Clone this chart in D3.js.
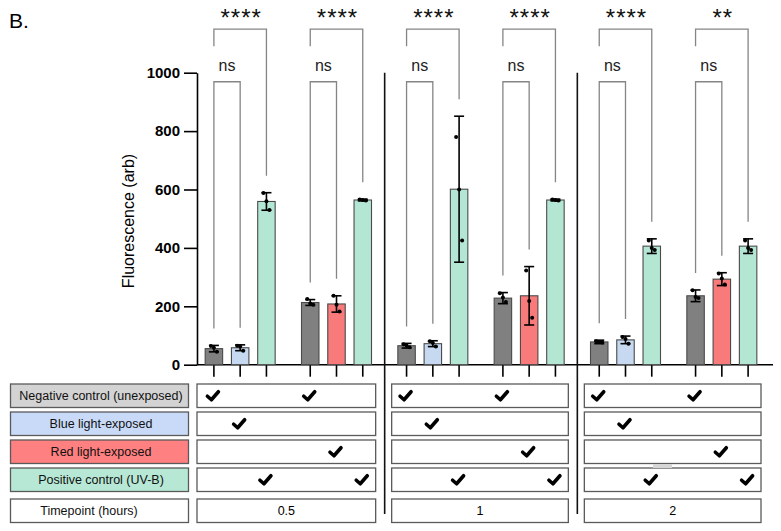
<!DOCTYPE html>
<html>
<head>
<meta charset="utf-8">
<script src="https://cdn.jsdelivr.net/npm/d3@7"></script>
<style>
  body { margin: 0; background: #fff; }
  svg { font-family: "Liberation Sans", Arial, sans-serif; }
</style>
</head>
<body>
<script>
// chart data
var timepoints = ["0.5", "1", "2"];
var conditions = ["Negative control (unexposed)", "Blue light-exposed", "Red light-exposed", "Positive control (UV-B)"];
var rowLabels = conditions.concat(["Timepoint (hours)"]);
var condFill = ["#808080", "#c6d9f1", "#f87a7a", "#b4e7d3"];
var labelFill = ["#d3d3d3", "#c9daf8", "#ff8080", "#b7e8d5"];

// each group of three bars: which condition each bar is
var groupConds = [[0, 1, 3], [0, 2, 3], [0, 1, 3], [0, 2, 3], [0, 1, 3], [0, 2, 3]];
var means = [[55, 58, 559], [213, 208, 564], [65, 72, 601], [228, 236, 564], [78, 85, 406], [236, 293, 406]];
var sds = [[11, 10, 30], [10, 28, 3], [8, 10, 250], [19, 100, 3], [6, 13, 25], [20, 22, 25]];
var replicates = [
    [[64, 58, 44], [65, 62, 48], [588, 560, 530]],
    [[225, 210, 205], [236, 205, 182], [566, 564, 562]],
    [[70, 66, 60], [80, 74, 62], [780, 600, 425]],
    [[245, 230, 215], [323, 218, 161], [566, 564, 562]],
    [[80, 78, 76], [95, 88, 72], [425, 400, 393]],
    [[255, 232, 228], [312, 295, 275], [425, 400, 393]]
];
var sigInner = ["ns", "ns", "ns", "ns", "ns", "ns"];
var sigOuter = ["****", "****", "****", "****", "****", "**"];
var yTicks = [0, 200, 400, 600, 800, 1000];

var width = 781,
    height = 531;

var svg = d3.select("body")
    .append("svg")
    .attr("width", width)
    .attr("height", height);

// scales
var y = d3.scaleLinear().domain([0, 1000]).range([364.7, 72.7]);
var x0 = d3.scaleBand().domain(d3.range(groupConds.length)).range([192, 770]);
var x1 = d3.scaleBand().domain([0, 1, 2]).range([-35, 35]).paddingInner(0.335);

function barCenter(g, j) {
    return x0(g) + x0.bandwidth() / 2 + x1(j) + x1.bandwidth() / 2;
}
// left edge of group g, also valid one past the last group
function groupEdge(g) {
    return x0.range()[0] + g * x0.step();
}

// panel letter
svg.append("text")
    .attr("x", 9).attr("y", 28)
    .attr("font-size", 21)
    .text("B.");

// y axis
var yAxis = svg.append("g")
    .attr("transform", "translate(197,0)")
    .call(d3.axisLeft(y).tickValues(yTicks).tickFormat(d3.format("d"))
        .tickSize(13).tickSizeOuter(0).tickPadding(4));
yAxis.select(".domain").attr("stroke", "#000").attr("stroke-width", 1.6);
yAxis.selectAll(".tick line").attr("stroke", "#000").attr("stroke-width", 1.6);
yAxis.selectAll(".tick text")
    .attr("font-size", 15)
    .attr("font-weight", "bold")
    .attr("font-family", "Liberation Sans, Arial, sans-serif")
    .attr("fill", "#000");

svg.append("text")
    .attr("transform", "translate(134,221) rotate(-90)")
    .attr("text-anchor", "middle")
    .attr("font-size", 16)
    .text("Fluorescence (arb)");

// x axis line
svg.append("line")
    .attr("x1", 197).attr("x2", 773)
    .attr("y1", y(0)).attr("y2", y(0))
    .attr("stroke", "#000").attr("stroke-width", 1.6);

// separators between timepoints
[2, 4].forEach(function(g) {
    svg.append("line")
        .attr("x1", groupEdge(g)).attr("x2", groupEdge(g))
        .attr("y1", y(1000)).attr("y2", 514)
        .attr("stroke", "#111").attr("stroke-width", 1.6);
});

// flatten bars
var bars = [];
groupConds.forEach(function(conds, g) {
    conds.forEach(function(c, j) {
        bars.push({ g: g, j: j, cond: c, mean: means[g][j], sd: sds[g][j], pts: replicates[g][j] });
    });
});

svg.selectAll(".xtick")
    .data(bars)
    .enter()
    .append("line")
    .attr("class", "xtick")
    .attr("x1", function(d) { return barCenter(d.g, d.j); })
    .attr("x2", function(d) { return barCenter(d.g, d.j); })
    .attr("y1", y(0)).attr("y2", y(0) + 12)
    .attr("stroke", "#000").attr("stroke-width", 1.6);

svg.selectAll(".bar")
    .data(bars)
    .enter()
    .append("rect")
    .attr("class", "bar")
    .attr("x", function(d) { return x0(d.g) + x0.bandwidth() / 2 + x1(d.j); })
    .attr("width", x1.bandwidth())
    .attr("y", function(d) { return y(d.mean); })
    .attr("height", function(d) { return y(0) - y(d.mean); })
    .attr("fill", function(d) { return condFill[d.cond]; })
    .attr("stroke", "#4a4a4a")
    .attr("stroke-width", 1.1);

// error bars
var err = svg.selectAll(".err")
    .data(bars)
    .enter()
    .append("g")
    .attr("class", "err")
    .attr("stroke", "#000")
    .attr("stroke-width", 1.6);
err.append("line")
    .attr("x1", function(d) { return barCenter(d.g, d.j); })
    .attr("x2", function(d) { return barCenter(d.g, d.j); })
    .attr("y1", function(d) { return y(d.mean - d.sd); })
    .attr("y2", function(d) { return y(d.mean + d.sd); });
[-1, 1].forEach(function(s) {
    err.append("line")
        .attr("x1", function(d) { return barCenter(d.g, d.j) - 5; })
        .attr("x2", function(d) { return barCenter(d.g, d.j) + 5; })
        .attr("y1", function(d) { return y(d.mean + s * d.sd); })
        .attr("y2", function(d) { return y(d.mean + s * d.sd); });
});

// replicate points
var dots = [];
bars.forEach(function(b) {
    b.pts.forEach(function(v, k) {
        dots.push({ x: barCenter(b.g, b.j) + (k - 1) * 3, v: v });
    });
});
svg.selectAll(".dot")
    .data(dots)
    .enter()
    .append("circle")
    .attr("class", "dot")
    .attr("cx", function(d) { return d.x; })
    .attr("cy", function(d) { return y(d.v); })
    .attr("r", 2)
    .attr("fill", "#000");

// significance brackets
function legEnd(g, j) {
    return y(means[g][j] + sds[g][j]) - 17;
}
groupConds.forEach(function(conds, g) {
    var xa = barCenter(g, 0), xb = barCenter(g, 1), xc = barCenter(g, 2);
    var innerTop = y(969), outerTop = y(1149);
    svg.append("path")
        .attr("d", "M" + xa + "," + legEnd(g, 0) + "V" + innerTop + "H" + xb + "V" + legEnd(g, 1))
        .attr("fill", "none").attr("stroke", "#858585").attr("stroke-width", 1.3);
    svg.append("path")
        .attr("d", "M" + xa + "," + (outerTop + 17) + "V" + outerTop + "H" + xc + "V" + legEnd(g, 2))
        .attr("fill", "none").attr("stroke", "#858585").attr("stroke-width", 1.3);
    svg.append("text")
        .attr("x", (xa + xb) / 2).attr("y", innerTop - 11)
        .attr("text-anchor", "middle")
        .attr("font-size", 16)
        .attr("fill", "#222")
        .text(sigInner[g]);
    svg.append("text")
        .attr("x", (xa + xc) / 2 + 1).attr("y", outerTop - 3)
        .attr("text-anchor", "middle")
        .attr("font-size", 24)
        .attr("letter-spacing", 1)
        .attr("fill", "#111")
        .text(sigOuter[g]);
});

// table below the chart
function rowTop(i) { return 384 + i * 28 + (i === 4 ? 3 : 0); }
var rowH = 23.5;

svg.selectAll(".rowlabel")
    .data(rowLabels)
    .enter()
    .append("rect")
    .attr("class", "rowlabel")
    .attr("x", 10.5).attr("width", 178)
    .attr("y", function(d, i) { return rowTop(i); })
    .attr("height", rowH)
    .attr("fill", function(d, i) { return i < 4 ? labelFill[i] : "#fff"; })
    .attr("stroke", "#5a5a5a").attr("stroke-width", 1.3);

svg.selectAll(".rowtext")
    .data(rowLabels)
    .enter()
    .append("text")
    .attr("class", "rowtext")
    .attr("x", function(d, i) { return i === 4 ? 89 : 101; })
    .attr("y", function(d, i) { return rowTop(i) + rowH / 2 + 4.5; })
    .attr("text-anchor", "middle")
    .attr("font-size", 12.5)
    .attr("fill", "#111")
    .text(function(d) { return d; });

function cellLeft(t) { return t === 0 ? 197 : groupEdge(2 * t) + 7; }
function cellRight(t) { return groupEdge(2 * t + 2) - 9; }

timepoints.forEach(function(tp, t) {
    rowLabels.forEach(function(r, i) {
        svg.append("rect")
            .attr("x", cellLeft(t)).attr("width", cellRight(t) - cellLeft(t))
            .attr("y", rowTop(i)).attr("height", rowH)
            .attr("fill", "#fff")
            .attr("stroke", "#5a5a5a").attr("stroke-width", 1.3);
    });
    svg.append("text")
        .attr("x", (cellLeft(t) + cellRight(t)) / 2)
        .attr("y", rowTop(4) + rowH / 2 + 4.5)
        .attr("text-anchor", "middle")
        .attr("font-size", 12.5)
        .text(tp);
});

// check marks under each bar in its condition row
svg.selectAll(".check")
    .data(bars)
    .enter()
    .append("path")
    .attr("class", "check")
    .attr("transform", function(d) {
        return "translate(" + (barCenter(d.g, d.j) - 1) + "," + (rowTop(d.cond) + rowH / 2) + ")";
    })
    .attr("d", "M-5.5,0.5L-1.5,4L5.5,-4")
    .attr("fill", "none")
    .attr("stroke", "#000")
    .attr("stroke-width", 3.6)
    .attr("stroke-linecap", "round")
    .attr("stroke-linejoin", "round");

// small grey smudge visible in the original
svg.append("rect")
    .attr("x", 653).attr("y", 464).attr("width", 19).attr("height", 4)
    .attr("fill", "#d6d6d6");
</script>
</body>
</html>
